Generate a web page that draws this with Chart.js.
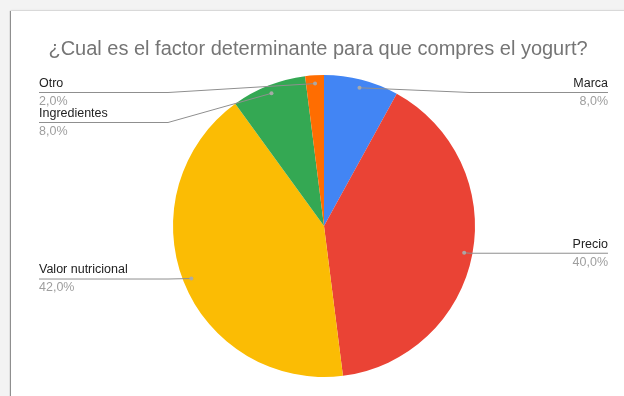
<!DOCTYPE html>
<html>
<head>
<meta charset="utf-8">
<script src="https://cdn.jsdelivr.net/npm/chart.js@4.4.1/dist/chart.umd.min.js"></script>
<style>
  html, body { margin: 0; padding: 0; width: 624px; height: 396px; overflow: hidden; background: #f3f3f3; }
  .card {
    position: absolute; left: 11px; top: 11px; width: 640px; height: 400px;
    background: #fff;
    box-shadow: -1px 0 1px rgba(0,0,0,0.4), 0 -1px 2px rgba(0,0,0,0.06);
  }
  #pie { position: absolute; left: 0; top: 0; }
</style>
</head>
<body>
<div class="card"><canvas id="pie" width="613" height="385"></canvas></div>
<script>
const TITLE = "¿Cual es el factor determinante para que compres el yogurt?";
const labels = ["Marca", "Precio", "Valor nutricional", "Ingredientes", "Otro"];
const values = [8, 40, 42, 8, 2];
const colors = ["#4285f4", "#ea4335", "#fbbc04", "#34a853", "#ff6d01"];

const FONT = "Arial, 'Liberation Sans', sans-serif";

// Google-style outside labels: dot inside each slice, leader line, name + percent
const sliceLabels = {
  id: "sliceLabels",
  afterDraw(chart) {
    const ctx = chart.ctx;
    const arcs = chart.getDatasetMeta(0).data;
    const total = values.reduce((a, b) => a + b, 0);
    const cx = arcs[0].x;

    // title
    ctx.save();
    ctx.font = "20px " + FONT;
    ctx.fillStyle = "#757575";
    ctx.textAlign = "center";
    ctx.textBaseline = "middle";
    ctx.fillText(TITLE, 307, 38);
    ctx.restore();

    const items = arcs.map((arc, i) => {
      const mid = (arc.startAngle + arc.endAngle) / 2;
      const r = arc.outerRadius * 0.945;
      return {
        i,
        dx: arc.x + Math.cos(mid) * r,
        dy: arc.y + Math.sin(mid) * r,
      };
    });

    const minY = 81, gap = 30;
    ["left", "right"].forEach(side => {
      const group = items
        .filter(it => side === "left" ? it.dx < cx : it.dx >= cx)
        .sort((a, b) => a.dy - b.dy);
      let prev = -Infinity;
      group.forEach(it => {
        const ly = Math.max(it.dy, minY, prev + gap);
        prev = ly;
        const endX = side === "left" ? 28 : 597;
        const kneeX = side === "left" ? Math.min(it.dx, 157) : Math.max(it.dx, 459);

        ctx.save();
        ctx.strokeStyle = "#8f8f8f";
        ctx.lineWidth = 1;
        ctx.beginPath();
        ctx.moveTo(it.dx, it.dy);
        ctx.lineTo(kneeX, ly + 0.5);
        ctx.lineTo(endX, ly + 0.5);
        ctx.stroke();

        ctx.fillStyle = "rgba(170,170,170,0.95)";
        ctx.beginPath();
        ctx.arc(it.dx, it.dy, 2, 0, Math.PI * 2);
        ctx.fill();

        ctx.font = "12.5px " + FONT;
        ctx.textBaseline = "middle";
        ctx.textAlign = side === "left" ? "left" : "right";
        ctx.fillStyle = "#222";
        ctx.fillText(labels[it.i], endX, ly - 8.5);
        ctx.fillStyle = "#9e9e9e";
        const pct = (values[it.i] / total * 100).toFixed(1).replace(".", ",") + "%";
        ctx.fillText(pct, endX, ly + 9.5);
        ctx.restore();
      });
    });
  }
};

new Chart(document.getElementById("pie"), {
  type: "pie",
  data: {
    labels,
    datasets: [{
      data: values,
      backgroundColor: colors,
      borderWidth: 0,
    }],
  },
  options: {
    responsive: false,
    animation: false,
    layout: { padding: { top: 64, bottom: 19, left: 113, right: 100 } },
    plugins: {
      legend: { display: false },
      tooltip: { enabled: false },
    },
  },
  plugins: [sliceLabels],
});
</script>
</body>
</html>
